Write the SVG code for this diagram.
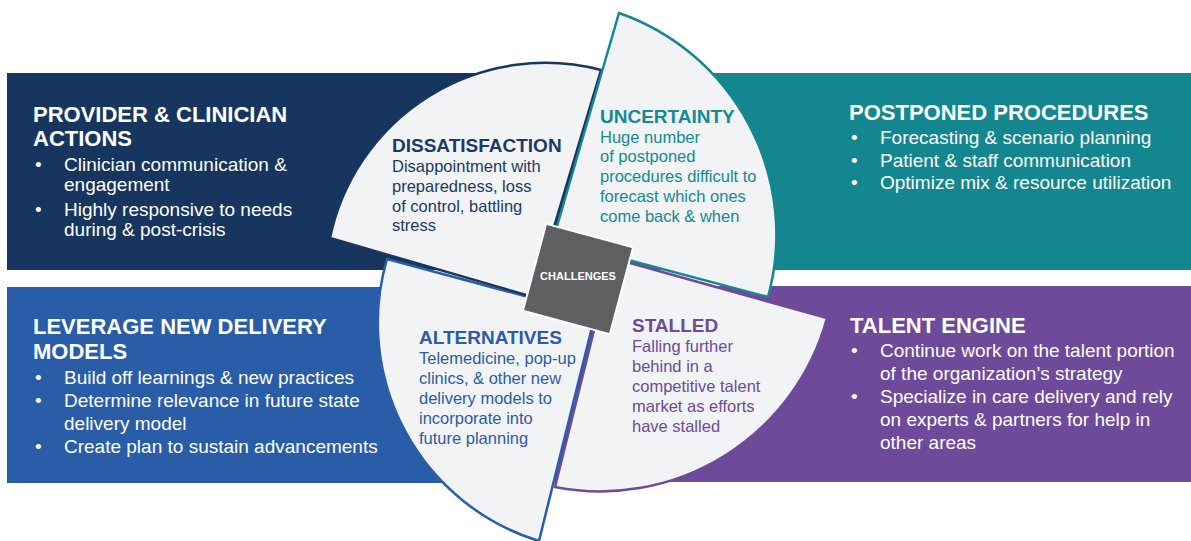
<svg xmlns="http://www.w3.org/2000/svg" width="1191" height="541" viewBox="0 0 1191 541">
<style>
.bg{stroke:none}
.wedge{fill:#f2f3f5;stroke-width:2.5;stroke-linejoin:miter}
.t{font-family:"Liberation Sans",Arial,sans-serif;}
.ph{font-size:22px;font-weight:bold;fill:#ffffff}
.pb{font-size:19px;fill:#ffffff}
.wh{font-size:19px;font-weight:bold}
.wb{font-size:16.5px}
</style>
<rect width="1191" height="541" fill="#ffffff"/>
<g id="panel-provider">
<rect class="bg" x="7" y="73" width="593" height="197" fill="#16365f"/>
<text class="t ph" x="33" y="122">PROVIDER &amp; CLINICIAN</text>
<text class="t ph" x="33" y="146">ACTIONS</text>
<text class="t pb" x="35" y="171">•</text><text class="t pb" x="64" y="171">Clinician communication &amp;</text>
<text class="t pb" x="64" y="191">engagement</text>
<text class="t pb" x="35" y="216">•</text><text class="t pb" x="64" y="216">Highly responsive to needs</text>
<text class="t pb" x="64" y="236">during &amp; post-crisis</text>
</g>
<g id="panel-postponed">
<rect class="bg" x="600" y="73" width="591" height="197" fill="#13868f"/>
<text class="t ph" x="849" y="120">POSTPONED PROCEDURES</text>
<text class="t pb" x="851" y="144">•</text><text class="t pb" x="880" y="144">Forecasting &amp; scenario planning</text>
<text class="t pb" x="851" y="166.5">•</text><text class="t pb" x="880" y="166.5">Patient &amp; staff communication</text>
<text class="t pb" x="851" y="189">•</text><text class="t pb" x="880" y="189">Optimize mix &amp; resource utilization</text>
</g>
<g id="panel-leverage">
<rect class="bg" x="7" y="287" width="583" height="196" fill="#295da8"/>
<text class="t ph" x="33" y="334">LEVERAGE NEW DELIVERY</text>
<text class="t ph" x="33" y="359">MODELS</text>
<text class="t pb" x="35" y="384">•</text><text class="t pb" x="64" y="384">Build off learnings &amp; new practices</text>
<text class="t pb" x="35" y="407">•</text><text class="t pb" x="64" y="407">Determine relevance in future state</text>
<text class="t pb" x="64" y="429.5">delivery model</text>
<text class="t pb" x="35" y="453">•</text><text class="t pb" x="64" y="453">Create plan to sustain advancements</text>
</g>
<g id="panel-talent">
<rect class="bg" x="590" y="286" width="601" height="196" fill="#6e4a9b"/>
<text class="t ph" x="850" y="333">TALENT ENGINE</text>
<text class="t pb" x="851" y="357">•</text><text class="t pb" x="880" y="357">Continue work on the talent portion</text>
<text class="t pb" x="880" y="379.5">of the organization’s strategy</text>
<text class="t pb" x="851" y="402.5">•</text><text class="t pb" x="880" y="402.5">Specialize in care delivery and rely</text>
<text class="t pb" x="880" y="426">on experts &amp; partners for help in</text>
<text class="t pb" x="880" y="448.5">other areas</text>
</g>
<g id="wedge-alternatives">
<path class="wedge" stroke="#2a5ea8" d="M 595 315 L 539 541 A 228 228 0 0 1 387 259 Z"/>
<g class="t" fill="#2b5ca7">
<text class="wh" x="419" y="343.5">ALTERNATIVES</text>
<text class="wb" x="419" y="364">Telemedicine, pop-up</text>
<text class="wb" x="419" y="384">clinics, &amp; other new</text>
<text class="wb" x="419" y="404">delivery models to</text>
<text class="wb" x="419" y="424">incorporate into</text>
<text class="wb" x="419" y="444">future planning</text>
</g>
</g>
<g id="wedge-stalled">
<path class="wedge" stroke="#6f4a9a" d="M 612 258 L 827 318 A 235 235 0 0 1 555 487 Z"/>
<g class="t" fill="#6d4a9b">
<text class="wh" x="632" y="331.5">STALLED</text>
<text class="wb" x="632" y="352">Falling further</text>
<text class="wb" x="632" y="372">behind in a</text>
<text class="wb" x="632" y="392">competitive talent</text>
<text class="wb" x="632" y="412">market as efforts</text>
<text class="wb" x="632" y="431.5">have stalled</text>
</g>
</g>
<g id="wedge-dissatisfaction">
<path class="wedge" stroke="#1b365d" d="M 533 297 L 330 238 A 220 220 0 0 1 601 70 Z"/>
<g class="t" fill="#1c3a63">
<text class="wh" x="392" y="152">DISSATISFACTION</text>
<text class="wb" x="392" y="172">Disappointment with</text>
<text class="wb" x="392" y="191.5">preparedness, loss</text>
<text class="wb" x="392" y="211.5">of control, battling</text>
<text class="wb" x="392" y="231">stress</text>
</g>
</g>
<g id="wedge-uncertainty">
<path class="wedge" stroke="#14878f" d="M 553 240 L 619 13 A 235 235 0 0 1 768 297 Z"/>
<g class="t" fill="#148a93">
<text class="wh" x="600" y="123">UNCERTAINTY</text>
<text class="wb" x="600" y="142.5">Huge number</text>
<text class="wb" x="600" y="162">of postponed</text>
<text class="wb" x="600" y="182">procedures difficult to</text>
<text class="wb" x="600" y="202">forecast which ones</text>
<text class="wb" x="600" y="221.5">come back &amp; when</text>
</g>
</g>
<g id="center-challenges">
<rect x="-45" y="-45" width="90" height="90" fill="#5f5f62" stroke="#ffffff" stroke-width="2" transform="translate(578 279) rotate(15)"/>
<text class="t" x="578" y="280" text-anchor="middle" font-size="11" font-weight="bold" fill="#ffffff">CHALLENGES</text>
</g>
<g id="connectors"></g>
</svg>
